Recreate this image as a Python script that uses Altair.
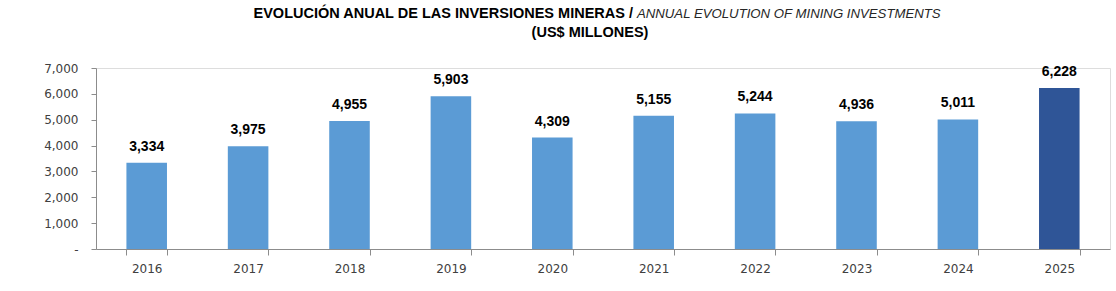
import altair as alt
import pandas as pd

# Annual mining investment, US$ millions
years = ["2016", "2017", "2018", "2019", "2020", "2021", "2022", "2023", "2024", "2025"]
investment = [3334, 3975, 4955, 5903, 4309, 5155, 5244, 4936, 5011, 6228]
highlight = ["base", "base", "base", "base", "base", "base", "base", "base", "base", "last"]
y_ticks = [0, 1000, 2000, 3000, 4000, 5000, 6000, 7000]

df = pd.DataFrame({"year": years, "value": investment, "kind": highlight})
one = pd.DataFrame({"k": [0]})

W, H = 1014, 181
FONT = "Liberation Sans"
AXIS_FONT = "DejaVu Sans"

base = alt.Chart(df).encode(
    x=alt.X(
        "year:N",
        sort=years,
        title=None,
        scale=alt.Scale(paddingInner=0.6, paddingOuter=0.3),
        axis=alt.Axis(
            labelAngle=0,
            tickBand="extent",
            domainColor="#8c8c8c",
            tickColor="#8c8c8c",
            tickSize=6,
            labelPadding=8,
            labelFont=AXIS_FONT,
            labelFontSize=12,
            labelColor="#404040",
        ),
    ),
    y=alt.Y(
        "value:Q",
        title=None,
        scale=alt.Scale(domain=[0, 7000]),
        axis=alt.Axis(
            values=y_ticks,
            labelExpr="datum.value == 0 ? '-' : format(datum.value, ',')",
            labelOverlap=False,
            grid=False,
            domainColor="#8c8c8c",
            tickColor="#8c8c8c",
            tickSize=5,
            labelPadding=13,
            labelFont=AXIS_FONT,
            labelFontSize=12,
            labelColor="#404040",
        ),
    ),
)

bars = base.mark_bar().encode(
    color=alt.Color(
        "kind:N",
        scale=alt.Scale(domain=["base", "last"], range=["#5b9bd5", "#2f5597"]),
        legend=None,
    ),
)

labels = base.mark_text(
    baseline="bottom", dy=-9, font=FONT, fontSize=14, fontWeight="bold", color="#000000"
).encode(
    text=alt.Text("value:Q", format=","),
)

head = alt.Chart(one)

title_es = head.mark_text(
    align="right", baseline="middle", font=FONT, fontSize=14.5, fontWeight="bold", color="#000000"
).encode(
    x=alt.value(537), y=alt.value(-54),
    text=alt.value("EVOLUCIÓN ANUAL DE LAS INVERSIONES MINERAS /"),
)

title_en = head.mark_text(
    align="left", baseline="middle", font=FONT, fontSize=13.2, fontStyle="italic", color="#262626"
).encode(
    x=alt.value(541), y=alt.value(-54),
    text=alt.value("ANNUAL EVOLUTION OF MINING INVESTMENTS"),
)

title_units = head.mark_text(
    align="center", baseline="middle", font=FONT, fontSize=14.5, fontWeight="bold", color="#000000"
).encode(
    x=alt.value(494), y=alt.value(-35),
    text=alt.value("(US$ MILLONES)"),
)

chart = (
    alt.layer(bars, labels, title_es, title_en, title_units)
    .properties(
        width=W,
        height=H,
        autosize=alt.AutoSizeParams(type="none"),
        padding={"left": 96, "top": 68, "right": 6, "bottom": 42},
    )
    .configure_view(strokeWidth=0)
    .configure(background="#ffffff")
)

chart.save("out.html", embed_options={"renderer": "svg", "actions": False})
